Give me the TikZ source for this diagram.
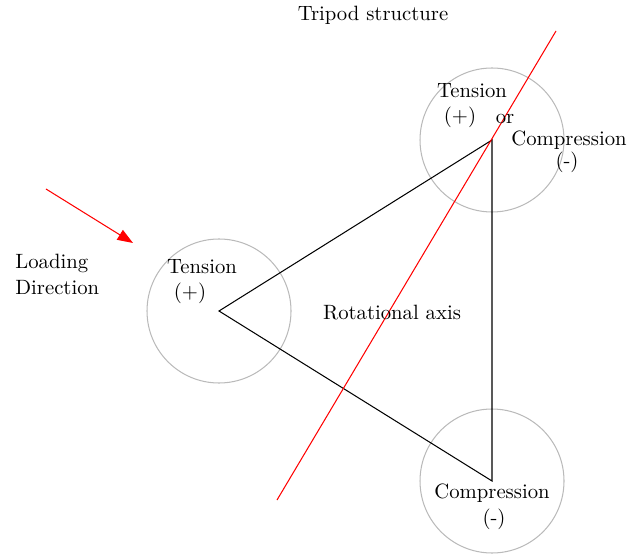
\documentclass[tikz,border=0pt]{standalone}
\usetikzlibrary{arrows.meta}
\begin{document}
\begin{tikzpicture}[x=0.483pt,y=-0.483pt,
  ring/.style={draw=black!27, line width=0.5pt},
  frame/.style={draw=black, line width=0.5pt},
  axisline/.style={draw=red, line width=0.5pt},
  lbl/.style={inner sep=0pt, font=\normalsize}]
\useasboundingbox (0,0) rectangle (630,555);
% vertices
\coordinate (A) at (219,311);
\coordinate (B) at (492,140);
\coordinate (C) at (492,481);
% circles
\draw[ring] (A) circle (72);
\draw[ring] (B) circle (72);
\draw[ring] (C) circle (72);
% triangle
\draw[frame] (A) -- (B) -- (C) -- cycle;
% rotational axis line
\coordinate (R1) at (556,31);
\coordinate (R2) at (277,500);
\draw[axisline] (R1) -- (R2);
% loading arrow
\coordinate (L1) at (46,189);
\coordinate (L2) at (133,243);
\draw[axisline, -{Triangle[length=7.5pt,width=5.5pt]}] (L1) -- (L2);
% labels
\node[lbl] (title) at (373,15) {Tripod structure};
\node[lbl] (t1a) at (472,91) {Tension};
\node[lbl] (t1b) at (460,117) {(+)};
\node[lbl] (or) at (505,119) {or};
\node[lbl] (c1a) at (569,140) {Compression};
\node[lbl] (c1b) at (567,162) {(-)};
\node[lbl, anchor=west] (ld1) at (15,263) {Loading};
\node[lbl, anchor=west] (ld2) at (15,288) {Direction};
\node[lbl] (t2a) at (202,267) {Tension};
\node[lbl] (t2b) at (190,293) {(+)};
\node[lbl] (rot) at (392,313) {Rotational axis};
\node[lbl] (c2a) at (492,493) {Compression};
\node[lbl] (c2b) at (494,519) {(-)};
\end{tikzpicture}
\end{document}
